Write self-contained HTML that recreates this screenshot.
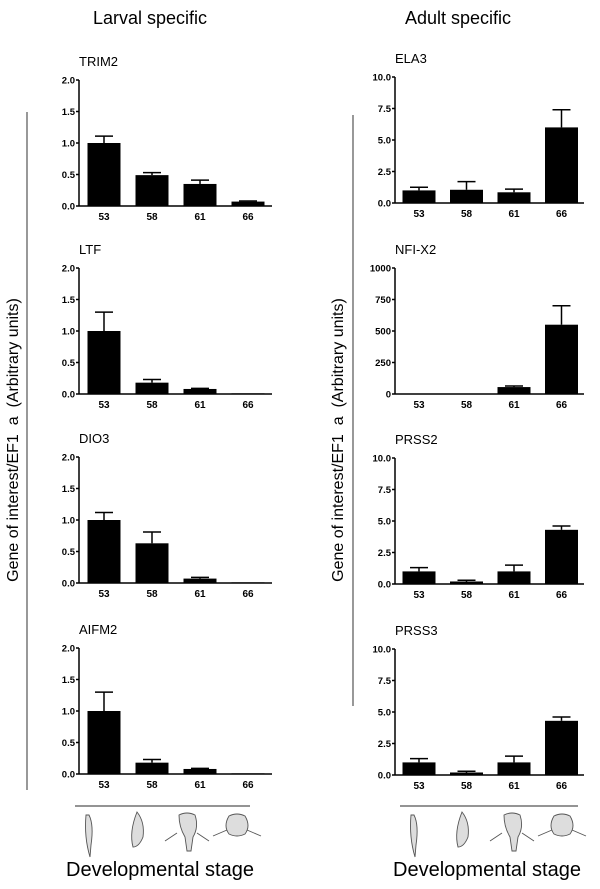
<!DOCTYPE html>
<html><head><meta charset="utf-8"><style>
body{margin:0;background:#fff;width:600px;height:889px;overflow:hidden}
svg{display:block;font-family:"Liberation Sans",Arial,sans-serif}
</style></head><body>
<svg id="chart" width="600" height="889" viewBox="0 0 600 889">
<text x="150" y="24" font-size="18" text-anchor="middle">Larval specific</text>
<text x="458" y="24" font-size="18" text-anchor="middle">Adult specific</text>
<line x1="27" y1="112" x2="27" y2="790" stroke="#555" stroke-width="1.2"/>
<line x1="353" y1="115" x2="353" y2="706" stroke="#555" stroke-width="1.2"/>
<text transform="translate(18,440) rotate(-90)" font-size="16" text-anchor="middle" style="white-space:pre">Gene of interest/EF1  a  (Arbitrary units)</text>
<text transform="translate(343,440) rotate(-90)" font-size="16" text-anchor="middle" style="white-space:pre">Gene of interest/EF1  a  (Arbitrary units)</text>
<line x1="75" y1="806" x2="250" y2="806" stroke="#555" stroke-width="1.2"/>
<line x1="400" y1="806" x2="578" y2="806" stroke="#555" stroke-width="1.2"/>
<text x="160" y="876" font-size="20" text-anchor="middle">Developmental stage</text>
<text x="487" y="876" font-size="20" text-anchor="middle">Developmental stage</text>
<g id="frogs"></g>
</svg>
<script>
const categories = ["53","58","61","66"];
const panelNames = ["TRIM2","LTF","DIO3","AIFM2","ELA3","NFI-X2","PRSS2","PRSS3"];
const trim2Values = [1.0,0.49,0.35,0.07], trim2Err = [0.11,0.04,0.06,0.01];
const ltfValues = [1.0,0.18,0.08,0.01], ltfErr = [0.30,0.05,0.01,0];
const dio3Values = [1.0,0.63,0.07,0.01], dio3Err = [0.12,0.18,0.02,0];
const aifm2Values = [1.0,0.18,0.08,0.01], aifm2Err = [0.30,0.05,0.01,0];
const ela3Values = [1.0,1.05,0.85,6.0], ela3Err = [0.25,0.65,0.25,1.4];
const nfiValues = [0,0,55,550], nfiErr = [0,0,8,150];
const prss2Values = [1.0,0.2,1.0,4.3], prss2Err = [0.3,0.1,0.5,0.3];
const prss3Values = [1.0,0.2,1.0,4.3], prss3Err = [0.3,0.1,0.5,0.3];
const leftTicks = ["0.0","0.5","1.0","1.5","2.0"];
const rightTicks = ["0.0","2.5","5.0","7.5","10.0"];
const nfiTicks = ["0","250","500","750","1000"];

const NS="http://www.w3.org/2000/svg";
const svg=document.getElementById('chart');
function mk(tag,attrs,parent){const e=document.createElementNS(NS,tag);for(const k in attrs)e.setAttribute(k,attrs[k]);(parent||svg).appendChild(e);return e;}

const panels=[
 {v:trim2Values,e:trim2Err,t:leftTicks,ax:79,end:272,base:206,c0:104,step:48,bw:33},
 {v:ltfValues,e:ltfErr,t:leftTicks,ax:79,end:272,base:394,c0:104,step:48,bw:33},
 {v:dio3Values,e:dio3Err,t:leftTicks,ax:79,end:272,base:583,c0:104,step:48,bw:33},
 {v:aifm2Values,e:aifm2Err,t:leftTicks,ax:79,end:272,base:774,c0:104,step:48,bw:33},
 {v:ela3Values,e:ela3Err,t:rightTicks,ax:395,end:584,base:203,c0:419,step:47.5,bw:33},
 {v:nfiValues,e:nfiErr,t:nfiTicks,ax:395,end:584,base:394,c0:419,step:47.5,bw:33},
 {v:prss2Values,e:prss2Err,t:rightTicks,ax:395,end:584,base:584,c0:419,step:47.5,bw:33},
 {v:prss3Values,e:prss3Err,t:rightTicks,ax:395,end:584,base:775,c0:419,step:47.5,bw:33}
];
const H=126;
panels.forEach((p,i)=>{
  const g=mk('g',{});
  
  
  const max=parseFloat(p.t[p.t.length-1]);
  const y=v=>p.base-v/max*H;
  const tt=mk('text',{x:p.ax,y:p.base-H-14,'font-size':13},g);tt.textContent=panelNames[i];
  
  
  const ya=mk('line',{x1:p.ax,y1:p.base-H,x2:p.ax,y2:p.base,stroke:'#000','stroke-width':1.5},g);
  
  
  const xa=mk('line',{x1:p.ax,y1:p.base,x2:p.end,y2:p.base,stroke:'#000','stroke-width':1.5},g);
  
  
  p.t.forEach((lab,k)=>{
    const ty=y(parseFloat(lab));
    mk('line',{x1:p.ax-3,y1:ty,x2:p.ax,y2:ty,stroke:'#000','stroke-width':1.5},g);
    const tl=mk('text',{x:p.ax-4,y:ty+3.5,'font-size':9.5,'font-weight':'bold','text-anchor':'end'},g);tl.textContent=lab;
    
    
  });
  categories.forEach((c,k)=>{
    const cx=p.c0+k*p.step;
    const top=y(p.v[k]), et=y(p.v[k]+p.e[k]);
    if(p.e[k]>0){
      mk('line',{x1:cx,y1:top,x2:cx,y2:et,stroke:'#000','stroke-width':1.5},g);
      mk('line',{x1:cx-9,y1:et,x2:cx+9,y2:et,stroke:'#000','stroke-width':1.5},g);
    }
    const b=mk('rect',{x:cx-p.bw/2,y:top,width:p.bw,height:Math.max(p.base-top,0),fill:'#000'},g);
    
    
    const xl=mk('text',{x:cx,y:p.base+14,'font-size':10,'font-weight':'bold','text-anchor':'middle'},g);xl.textContent=c;
    
    
  });
});
const fg=document.getElementById('frogs');
[[0,75],[1,400]].forEach(([s,x0])=>{
  const g=mk('g',{stroke:'#555',fill:'#ddd','stroke-width':0.9},fg);
  
  
  const c=[x0+14,x0+62,x0+112,x0+162];
  mk('path',{d:`M${c[0]},815 q5,10 2,30 l-1,12 q-6,-20 -4,-42 z`},g);
  mk('path',{d:`M${c[1]},812 q8,10 6,25 q-4,10 -10,10 q-4,-15 4,-35 z`},g);
  mk('path',{d:`M${c[2]-8},815 q8,-4 16,0 q4,12 -2,22 l-2,14 l-4,0 l-2,-14 q-6,-10 -6,-22 z M${c[2]-10},833 l-12,8 M${c[2]+10},833 l12,8`},g);
  mk('path',{d:`M${c[3]-8},816 q8,-4 16,0 q6,10 0,18 q-8,4 -16,0 q-6,-8 0,-18 z M${c[3]-10},830 l-14,6 M${c[3]+10},830 l14,6`},g);
});
</script>
</body></html>
